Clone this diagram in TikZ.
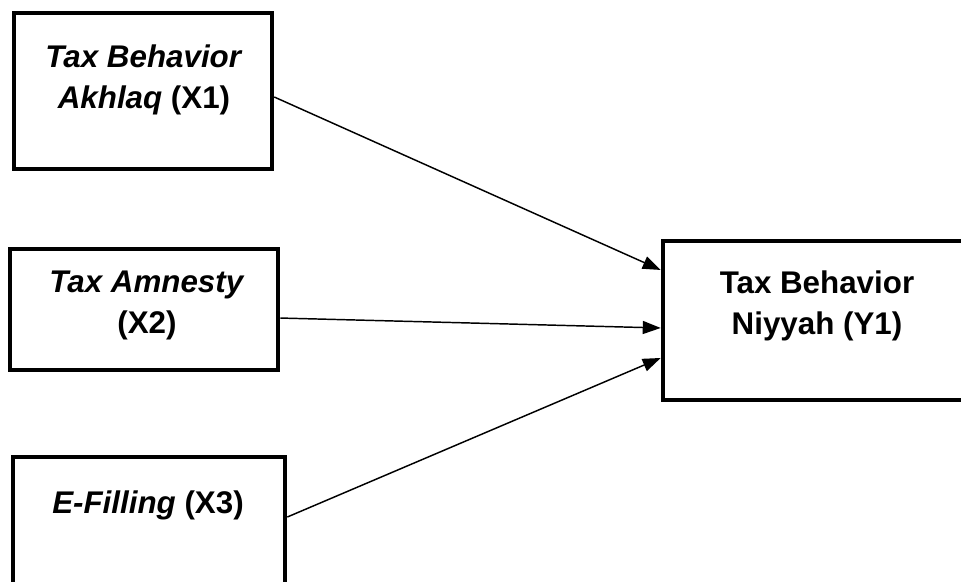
\documentclass[tikz,border=0pt]{standalone}
\usepackage{fontspec}
\setmainfont{Liberation Sans}
\usetikzlibrary{arrows.meta,positioning}
\tikzset{
	box/.style={draw,line width=3.4pt},
	lbl/.style={align=center,anchor=north,inner sep=0pt,font=\fontsize{23.5pt}{30.75pt}\selectfont\bfseries},
	arr/.style={-{Triangle[length=13.5pt,width=9.75pt]},line width=1.1pt}
}
\begin{document}
\begin{tikzpicture}[x=0.75pt,y=-0.75pt]
	\useasboundingbox (0,0) rectangle (961,582);
	\clip (0,0) rectangle (961,582);
	% boxes
	\node[box,minimum width=193.5pt,minimum height=117pt] (x1) at (143,91) {};
	\node[box,minimum width=201pt,minimum height=90.75pt] (x2) at (144,309.5) {};
	\node[box,minimum width=204pt,minimum height=137.25pt] (x3) at (149,548.5) {};
	\node[box,minimum width=252.75pt,minimum height=119.25pt] (y1) at (831.5,320.5) {};
	% texts
	\node[lbl] (x1lbl) at (144,45) {\textit{Tax Behavior}\\\textit{Akhlaq} (X1)};
	\node[lbl] (x2lbl) at (147,271) {\textit{Tax Amnesty}\\(X2)};
	\node[lbl] (x3lbl) at (148,491) {\textit{E-Filling} (X3)};
	\node[lbl] (y1lbl) at (817,271) {Tax Behavior\\Niyyah (Y1)};
	% arrows
	\draw[arr] ([yshift=-4.5pt]x1.east) -- ([yshift=37.9pt]y1.west);
	\draw[arr] ([yshift=-6.4pt]x2.east) -- ([yshift=-5.6pt]y1.west);
	\draw[arr] ([yshift=23.6pt]x3.east) -- ([yshift=-28.1pt]y1.west);
\end{tikzpicture}
\end{document}
